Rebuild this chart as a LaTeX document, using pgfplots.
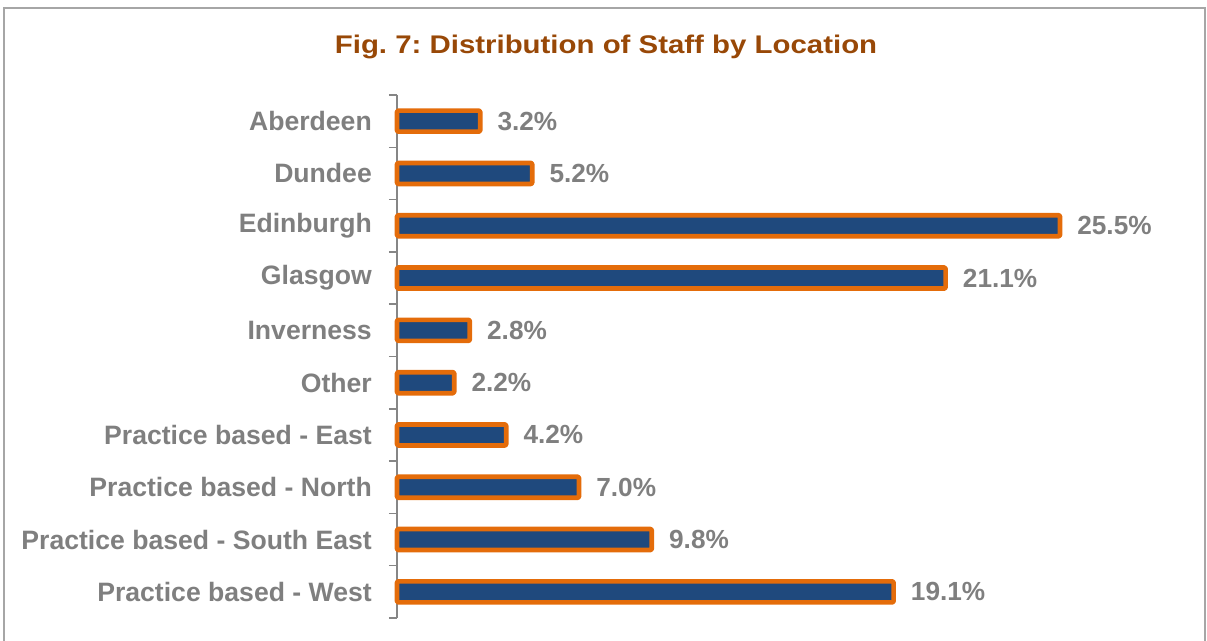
\documentclass[border=0pt]{standalone}
\usepackage{graphicx}
\usepackage{pgfplots}
\pgfplotsset{compat=1.18}
\usepackage{fontspec}
\setmainfont{Liberation Sans}
\definecolor{barblue}{HTML}{1F497D}
\definecolor{barorange}{HTML}{E46C0A}
\definecolor{titlebrown}{HTML}{984807}
\definecolor{labelgray}{HTML}{7F7F7F}
\definecolor{axisgray}{HTML}{868686}
\definecolor{framegray}{HTML}{A6A6A6}
\begin{document}
\frenchspacing
\begin{tikzpicture}
\useasboundingbox (0,0) rectangle (1207bp,641bp);
\begin{scope}
\clip (0,0) rectangle (1207bp,641bp);
\draw[framegray, line width=2bp] (4bp,-5bp) -- (4bp,633bp) -- (1205bp,633bp) -- (1205bp,-5bp);
\end{scope}
\node[titlebrown, anchor=base, font=\fontsize{25.5bp}{30bp}\selectfont\bfseries, inner sep=0pt] at (606bp,587bp) {\scalebox{1.153}[1]{Fig. 7: Distribution of Staff by Location}};
\begin{axis}[
  at={(397bp,23bp)}, anchor=south west,
  scale only axis, width=780bp, height=523bp,
  xmin=0, xmax=30, ymin=-0.5, ymax=9.5,
  y dir=reverse,
  axis x line=none, axis y line*=left,
  y axis line style={draw=axisgray, line width=1.5bp},
  ytick={0,...,9},
  yticklabels={Aberdeen,Dundee,Edinburgh,Glasgow,Inverness,Other,Practice based - East,Practice based - North,Practice based - South East,Practice based - West},
  major tick length=0pt,
  minor ytick={-0.5,0.5,...,9.5},
  minor tick length=8bp,
  tick align=outside,
  minor tick style={draw=axisgray, line width=1.5bp},
  yticklabel style={font=\fontsize{26.6bp}{30bp}\selectfont\bfseries, color=labelgray, inner sep=0pt, xshift=-25bp},
  /pgf/number format/assume math mode=true,
  xbar, bar width=21bp,
  point meta=x,
  nodes near coords={\pgfmathprintnumber[fixed,fixed zerofill,precision=1]{\pgfplotspointmeta}\%},
  nodes near coords style={font=\fontsize{26.2bp}{30bp}\selectfont\bfseries, color=labelgray, anchor=west, inner sep=0pt, xshift=15bp},
  clip=false,
]
\addplot[fill=barblue, draw=barorange, line width=4.7bp, line join=round, rounded corners=1.2bp] coordinates {
(3.2,0) (5.2,1) (25.5,2) (21.1,3) (2.8,4) (2.2,5) (4.2,6) (7.0,7) (9.8,8) (19.1,9)
};
\end{axis}
\end{tikzpicture}
\end{document}
